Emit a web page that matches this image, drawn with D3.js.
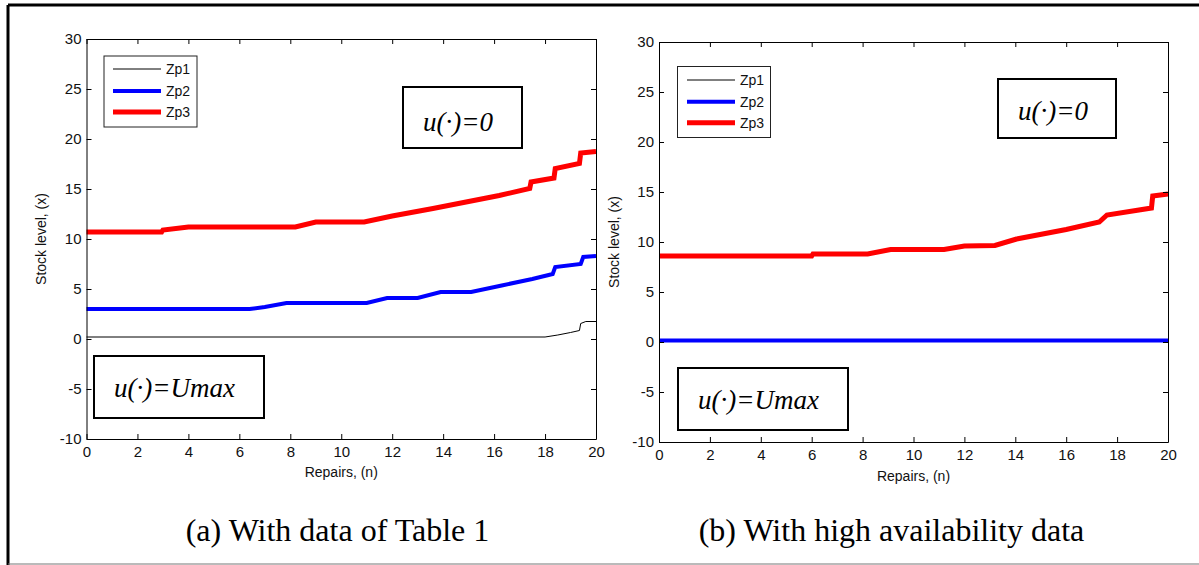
<!DOCTYPE html>
<html>
<head>
<meta charset="utf-8">
<script src="https://cdn.jsdelivr.net/npm/d3@7"></script>
<style>
  html, body { margin: 0; padding: 0; background: #fff; }
  svg { display: block; }
</style>
</head>
<body>
<svg id="chart" width="1199" height="565"></svg>
<script>
// ---------- data ----------
const xTicks = [0, 2, 4, 6, 8, 10, 12, 14, 16, 18, 20];
const yTicks = [-10, -5, 0, 5, 10, 15, 20, 25, 30];
const seriesNames = ["Zp1", "Zp2", "Zp3"];

// Panel (a): With data of Table 1
const zp1a_n = [0, 18.0, 18.5, 19.0, 19.35, 19.4, 19.6, 20];
const zp1a_v = [0.2, 0.2, 0.4, 0.65, 0.85, 1.55, 1.75, 1.75];
const zp2a_n = [0, 6.4, 7.0, 7.85, 11.0, 11.8, 13.0, 13.9, 15.1, 16.3, 17.5, 18.3, 18.4, 19.4, 19.5, 20];
const zp2a_v = [3.0, 3.0, 3.2, 3.6, 3.6, 4.1, 4.1, 4.7, 4.7, 5.35, 6.0, 6.5, 7.2, 7.5, 8.2, 8.3];
const zp3a_n = [0, 2.95, 3.0, 4.0, 8.2, 9.0, 10.9, 12.0, 13.6, 14.9, 16.2, 17.4, 17.45, 18.35, 18.4, 19.35, 19.4, 20];
const zp3a_v = [10.7, 10.7, 10.9, 11.2, 11.2, 11.7, 11.7, 12.3, 13.05, 13.7, 14.35, 15.05, 15.7, 16.1, 17.05, 17.55, 18.6, 18.75];

// Panel (b): With high availability data
const zp1b_n = [0, 20];
const zp1b_v = [0.1, 0.1];
const zp2b_n = [0, 20];
const zp2b_v = [0.15, 0.15];
const zp3b_n = [0, 6.0, 6.05, 8.2, 9.1, 11.2, 12.0, 13.2, 14.05, 16.0, 17.3, 17.6, 19.35, 19.4, 20];
const zp3b_v = [8.6, 8.6, 8.8, 8.8, 9.25, 9.25, 9.6, 9.65, 10.3, 11.25, 12.0, 12.7, 13.4, 14.6, 14.8];

const captions = ["(a) With data of Table 1", "(b) With high availability data"];
const xLabel = "Repairs, (n)";
const yLabel = "Stock level, (x)";
const boxTop = "u(\u00B7)=0";
const boxBottom = "u(\u00B7)=Umax";

// ---------- drawing ----------
const svg = d3.select("#chart");
const colors = ["#000000", "#0000ff", "#ff0000"];
const widths = [1, 4, 5];

// outer frame
svg.append("line").attr("x1", 8).attr("x2", 1199).attr("y1", 5).attr("y2", 5)
  .attr("stroke", "#000").attr("stroke-width", 3);
svg.append("line").attr("x1", 8).attr("x2", 8).attr("y1", 5).attr("y2", 565)
  .attr("stroke", "#000").attr("stroke-width", 3);
svg.append("line").attr("x1", 8).attr("x2", 1199).attr("y1", 564).attr("y2", 564)
  .attr("stroke", "#777").attr("stroke-width", 1.2);

const panels = [
  {
    x0: 86.5, x1: 596, yTop: 39, yBot: 439,
    series: [[zp1a_n, zp1a_v], [zp2a_n, zp2a_v], [zp3a_n, zp3a_v]],
    legend: { x: 104, y: 56, w: 93, h: 71, lx0: 113, lx1: 161, tx: 166, rows: [69, 91, 112] },
    top: { x: 403, y: 87, w: 119, h: 61, tx: 423, ty: 131 },
    bot: { x: 94, y: 356, w: 170, h: 62, tx: 114, ty: 397 },
    ylabX: 46, xlabY: 477,
    caption: captions[0], capX: 337.5
  },
  {
    x0: 659, x1: 1168, yTop: 42, yBot: 442,
    series: [[zp1b_n, zp1b_v], [zp2b_n, zp2b_v], [zp3b_n, zp3b_v]],
    legend: { x: 677.5, y: 66.5, w: 93, h: 71, lx0: 687, lx1: 735, tx: 740, rows: [80, 101.7, 122.7] },
    top: { x: 998, y: 79, w: 118, h: 59, tx: 1018, ty: 120 },
    bot: { x: 678, y: 368, w: 170, h: 62, tx: 698, ty: 409 },
    ylabX: 619, xlabY: 481,
    caption: captions[1], capX: 891.5
  }
];

const fmt = d => String(d);

panels.forEach(p => {
  const x = d3.scaleLinear().domain([0, 20]).range([p.x0, p.x1]);
  const y = d3.scaleLinear().domain([-10, 30]).range([p.yBot, p.yTop]);
  const g = svg.append("g");

  g.append("rect").attr("x", p.x0).attr("y", p.yTop)
    .attr("width", p.x1 - p.x0).attr("height", p.yBot - p.yTop).attr("fill", "#fff");

  const line = d3.line().x(d => x(d[0])).y(d => y(d[1]));
  p.series.forEach((s, i) => {
    const pts = s[0].map((n, k) => [n, s[1][k]]);
    g.append("path").datum(pts).attr("d", line)
      .attr("fill", "none").attr("stroke", colors[i])
      .attr("stroke-width", widths[i]).attr("stroke-linejoin", "miter");
  });

  const font = "'Liberation Sans', Arial, sans-serif";
  const styleAxis = sel => {
    sel.selectAll("path").attr("stroke", "#000").attr("stroke-width", 1);
    sel.selectAll("line").attr("stroke", "#000").attr("stroke-width", 1);
    sel.selectAll("text").attr("font-family", font).attr("font-size", 15).attr("fill", "#111");
  };
  g.append("g").attr("transform", `translate(0,${p.yBot})`)
    .call(d3.axisBottom(x).tickValues(xTicks).tickSizeInner(-5).tickSizeOuter(0).tickPadding(7).tickFormat(fmt))
    .call(styleAxis);
  g.append("g").attr("transform", `translate(0,${p.yTop})`)
    .call(d3.axisTop(x).tickValues(xTicks).tickSizeInner(-5).tickSizeOuter(0).tickFormat(""))
    .call(styleAxis);
  g.append("g").attr("transform", `translate(${p.x0},0)`)
    .call(d3.axisLeft(y).tickValues(yTicks).tickSizeInner(-5).tickSizeOuter(0).tickPadding(5).tickFormat(fmt))
    .call(styleAxis);
  g.append("g").attr("transform", `translate(${p.x1},0)`)
    .call(d3.axisRight(y).tickValues(yTicks).tickSizeInner(-5).tickSizeOuter(0).tickFormat(""))
    .call(styleAxis);

  g.append("text").attr("x", (p.x0 + p.x1) / 2).attr("y", p.xlabY)
    .attr("text-anchor", "middle").attr("font-family", font).attr("font-size", 14)
    .attr("fill", "#111").text(xLabel);
  g.append("text").attr("transform", `translate(${p.ylabX},${(p.yTop + p.yBot) / 2}) rotate(-90)`)
    .attr("text-anchor", "middle").attr("font-family", font).attr("font-size", 14)
    .attr("fill", "#111").text(yLabel);

  const L = p.legend;
  g.append("rect").attr("x", L.x).attr("y", L.y).attr("width", L.w).attr("height", L.h)
    .attr("fill", "#fff").attr("stroke", "#222").attr("stroke-width", 1);
  seriesNames.forEach((nm, i) => {
    g.append("line").attr("x1", L.lx0).attr("x2", L.lx1).attr("y1", L.rows[i]).attr("y2", L.rows[i])
      .attr("stroke", colors[i]).attr("stroke-width", widths[i]);
    g.append("text").attr("x", L.tx).attr("y", L.rows[i] + 5)
      .attr("font-family", font).attr("font-size", 14).attr("fill", "#111").text(nm);
  });

  [[p.top, boxTop], [p.bot, boxBottom]].forEach(([b, t]) => {
    g.append("rect").attr("x", b.x).attr("y", b.y).attr("width", b.w).attr("height", b.h)
      .attr("fill", "#fff").attr("stroke", "#000").attr("stroke-width", 2);
    g.append("text").attr("x", b.tx).attr("y", b.ty)
      .attr("font-family", "'Liberation Serif', 'Times New Roman', serif")
      .attr("font-style", "italic").attr("font-size", 27).attr("fill", "#000").text(t);
  });

  svg.append("text").attr("x", p.capX).attr("y", 541).attr("text-anchor", "middle")
    .attr("font-family", "'Liberation Serif', 'Times New Roman', serif")
    .attr("font-size", 32).attr("fill", "#000").text(p.caption);
});
</script>
</body>
</html>
